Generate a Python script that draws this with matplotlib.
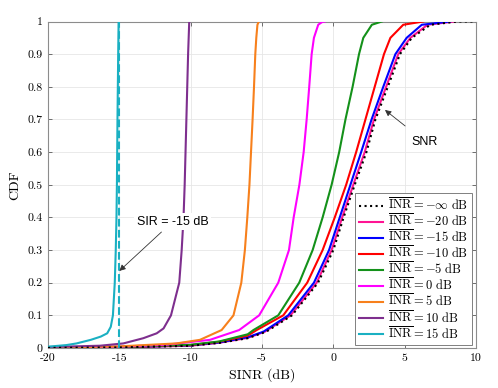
import matplotlib
matplotlib.use("Agg")
import matplotlib.pyplot as plt

plt.rcParams['font.family'] = ['cmr10', 'DejaVu Serif']
plt.rcParams['mathtext.fontset'] = 'cm'
plt.rcParams['axes.unicode_minus'] = False

labels = [r'$\overline{\mathrm{INR}} = -\infty\ \mathrm{dB}$',
          r'$\overline{\mathrm{INR}} = -20\ \mathrm{dB}$',
          r'$\overline{\mathrm{INR}} = -15\ \mathrm{dB}$',
          r'$\overline{\mathrm{INR}} = -10\ \mathrm{dB}$',
          r'$\overline{\mathrm{INR}} = -5\ \mathrm{dB}$',
          r'$\overline{\mathrm{INR}} = 0\ \mathrm{dB}$',
          r'$\overline{\mathrm{INR}} = 5\ \mathrm{dB}$',
          r'$\overline{\mathrm{INR}} = 10\ \mathrm{dB}$',
          r'$\overline{\mathrm{INR}} = 15\ \mathrm{dB}$']

# SINR (dB) and CDF points
snr_x = [-20, -15, -10, -8, -6, -4.7, -2.9, -1.07, 0.0, 0.72, 1.5, 2.32, 2.95, 3.82, 4.67, 5.5, 6.8, 8.7, 10]
snr_y = [0.0004, 0.0017, 0.0068, 0.0155, 0.03, 0.05, 0.1, 0.2, 0.3, 0.4, 0.5, 0.6, 0.7, 0.8, 0.9, 0.95, 0.99, 1.0, 1.0]

inr_m20_x = [-20, -15, -10, -8, -6, -4.8, -3.0, -1.17, -0.12, 0.62, 1.4, 2.2, 2.85, 3.7, 4.55, 5.4, 6.6, 8.5]
inr_m20_y = [0.0004, 0.0018, 0.007, 0.016, 0.031, 0.05, 0.1, 0.2, 0.3, 0.4, 0.5, 0.6, 0.7, 0.8, 0.9, 0.95, 0.99, 1.0]

inr_m15_x = [-20, -15, -10, -8, -6, -4.9, -3.16, -1.36, -0.3, 0.45, 1.2, 1.95, 2.68, 3.5, 4.35, 5.14, 6.2, 8.2]
inr_m15_y = [0.0005, 0.002, 0.008, 0.017, 0.033, 0.05, 0.1, 0.2, 0.3, 0.4, 0.5, 0.6, 0.7, 0.8, 0.9, 0.95, 0.99, 1.0]

inr_m10_x = [-20, -15, -10, -8, -6, -5.37, -3.51, -1.83, -0.75, 0.1, 0.9, 1.6, 2.25, 2.9, 3.55, 4.0, 4.9, 6.3]
inr_m10_y = [0.0006, 0.0025, 0.009, 0.019, 0.038, 0.055, 0.1, 0.2, 0.3, 0.4, 0.5, 0.6, 0.7, 0.8, 0.9, 0.95, 0.99, 1.0]

inr_m5_x = [-20, -15, -10, -8, -6, -5.6, -3.86, -2.39, -1.45, -0.75, -0.12, 0.41, 0.85, 1.35, 1.8, 2.1, 2.7, 3.4]
inr_m5_y = [0.0007, 0.003, 0.01, 0.02, 0.042, 0.055, 0.1, 0.2, 0.3, 0.4, 0.5, 0.6, 0.7, 0.8, 0.9, 0.95, 0.99, 1.0]

inr_0_x = [-20, -15, -11.7, -8.65, -6.6, -5.2, -3.86, -3.11, -2.78, -2.38, -2.08, -1.87, -1.69, -1.52, -1.36, -1.06, -0.8, -0.6]
inr_0_y = [0.001, 0.004, 0.01, 0.025, 0.055, 0.1, 0.2, 0.3, 0.4, 0.5, 0.6, 0.7, 0.8, 0.9, 0.95, 0.99, 0.998, 1.0]

inr_5_x = [-20, -15, -11.0, -9.35, -7.83, -7.0, -6.45, -6.2, -6.03, -5.88, -5.77, -5.66, -5.56, -5.47, -5.4, -5.32, -5.22]
inr_5_y = [0.001, 0.005, 0.014, 0.025, 0.055, 0.1, 0.2, 0.3, 0.4, 0.5, 0.6, 0.7, 0.8, 0.9, 0.95, 0.99, 1.0]

inr_10_x = [-20, -16.35, -14.72, -13.32, -12.38, -11.9, -11.38, -10.8, -10.63, -10.5, -10.42, -10.36, -10.3, -10.24, -10.18, -10.1]
inr_10_y = [0.003, 0.007, 0.014, 0.03, 0.045, 0.06, 0.1, 0.2, 0.3, 0.4, 0.5, 0.6, 0.7, 0.8, 0.9, 1.0]

inr_15_x = [-20, -18.7, -18.0, -17.0, -16.3, -15.85, -15.6, -15.45, -15.32, -15.25, -15.2, -15.17, -15.13, -15.08, -15.05]
inr_15_y = [0.004, 0.009, 0.014, 0.025, 0.035, 0.045, 0.065, 0.1, 0.2, 0.3, 0.4, 0.5, 0.7, 0.9, 1.0]

sir_db = -15
sir_line_y = [0, 1]

xticks = [-20, -15, -10, -5, 0, 5, 10]
xtick_labels = ['-20', '-15', '-10', '-5', '0', '5', '10']
yticks = [0, 0.1, 0.2, 0.3, 0.4, 0.5, 0.6, 0.7, 0.8, 0.9, 1]
ytick_labels = ['0', '0.1', '0.2', '0.3', '0.4', '0.5', '0.6', '0.7', '0.8', '0.9', '1']

colors = ['#000000', '#ff1493', '#0000ff', '#ff0000', '#14911a',
          '#ff00ff', '#f7801c', '#7e2f8e', '#1ab0c2']

fig = plt.figure(figsize=(4.98, 3.88), dpi=100)
ax = fig.add_axes([48/498, 1-348/388, 428/498, 326.5/388])

series = [(snr_x, snr_y), (inr_m20_x, inr_m20_y), (inr_m15_x, inr_m15_y),
          (inr_m10_x, inr_m10_y), (inr_m5_x, inr_m5_y), (inr_0_x, inr_0_y),
          (inr_5_x, inr_5_y), (inr_10_x, inr_10_y), (inr_15_x, inr_15_y)]

handles = []
for i, ((xs, ys), c, lab) in enumerate(zip(series, colors, labels)):
    if i == 0:
        h, = ax.plot(xs, ys, ':', color=c, lw=1.5, label=lab, zorder=5)
    else:
        h, = ax.plot(xs, ys, '-', color=c, lw=1.5, label=lab, zorder=3)
    handles.append(h)

ax.plot([sir_db, sir_db], sir_line_y, '--', color=colors[8], lw=1.5, zorder=3)

ax.set_xlim(-20, 10)
ax.set_ylim(0, 1)
ax.set_xticks(xticks)
ax.set_xticklabels(xtick_labels)
ax.set_yticks(yticks)
ax.set_yticklabels(ytick_labels)
ax.tick_params(direction='in', length=3, width=0.6, color='0.35',
               labelsize=8.5, top=True, right=True, pad=4)
ax.grid(True, color='0.9', lw=0.6)
ax.set_axisbelow(True)
for s in ax.spines.values():
    s.set_color('0.55')
    s.set_linewidth(0.8)

ax.set_xlabel('SINR (dB)', fontsize=10, labelpad=4)
ax.set_ylabel('CDF', fontsize=10, labelpad=4)

ax.annotate('SNR', xy=(3.62, 0.729), xytext=(6.42, 0.632),
            ha='center', va='center', fontsize=9, family='Liberation Sans',
            arrowprops=dict(arrowstyle='-|>', color='0.2', lw=0.6,
                            mutation_scale=9, shrinkA=8, shrinkB=0))
ax.annotate('SIR = -15 dB', xy=(-15.0, 0.236), xytext=(-11.26, 0.387),
            ha='center', va='center', fontsize=9, family='Liberation Sans',
            bbox=dict(boxstyle='square,pad=0.2', fc='white', ec='none'),
            arrowprops=dict(arrowstyle='-|>', color='0.2', lw=0.6,
                            mutation_scale=9, shrinkA=2, shrinkB=0),
            zorder=6)

leg = ax.legend(handles=handles, loc='lower right', bbox_to_anchor=(0.99, 0.008),
                borderaxespad=0, fontsize=9, fancybox=False, framealpha=1,
                handlelength=1.9, handletextpad=0.4, labelspacing=0.0,
                borderpad=0.3)
leg.get_frame().set_edgecolor('0.5')
leg.get_frame().set_linewidth(0.7)

fig.savefig('out.png', dpi=100)
